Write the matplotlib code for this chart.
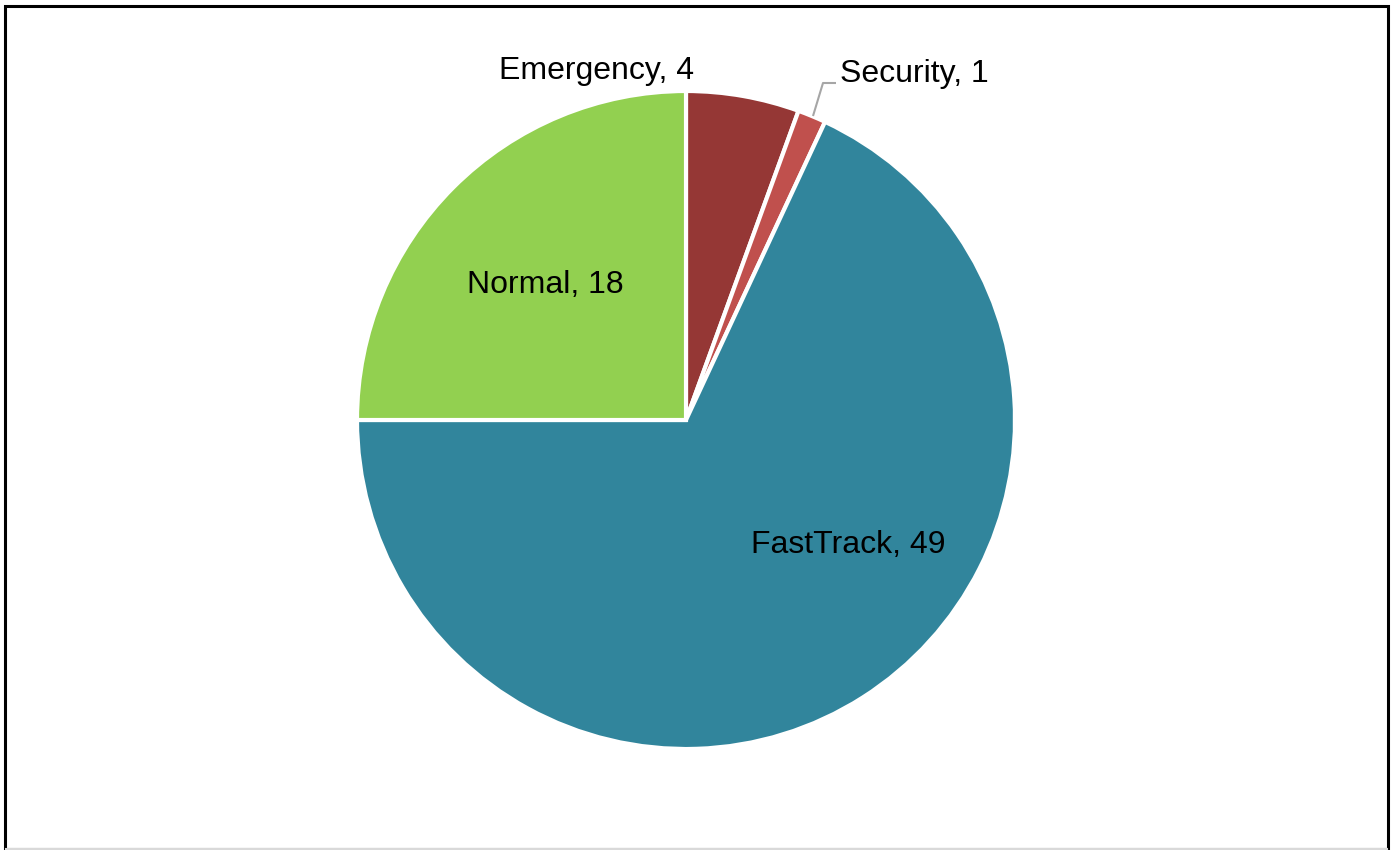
import matplotlib
matplotlib.use("Agg")
import matplotlib.pyplot as plt
from matplotlib.patches import Rectangle

plt.rcParams['font.family'] = ['Liberation Sans', 'DejaVu Sans']

categories = ["Emergency", "Security", "FastTrack", "Normal"]
values = [4, 1, 49, 18]
colors = ["#953735", "#C0504D", "#31859C", "#92D050"]

W, H = 1393, 850
fig = plt.figure(figsize=(W / 100, H / 100), dpi=100)
ax = fig.add_axes([0, 0, 1, 1])

cx, cy, r = 686, H - 420, 329
ax.pie(values, colors=colors, startangle=90, counterclock=False,
       center=(cx, cy), radius=r, frame=True,
       wedgeprops=dict(edgecolor='white', linewidth=3))
ax.set_xlim(0, W)
ax.set_ylim(0, H)
ax.set_aspect('equal')
ax.axis('off')

labels = [f"{c}, {v}" for c, v in zip(categories, values)]
label_pos = {
    "Emergency": (597, 71, 'center'),
    "Security": (840, 74, 'left'),
    "FastTrack": (848, 545, 'center'),
    "Normal": (545, 285, 'center'),
}
for c, lab in zip(categories, labels):
    x, y, ha = label_pos[c]
    ax.text(x, H - y, lab, ha=ha, va='center', fontsize=23, color='black')

# leader line for the narrow slice
ax.plot([813, 823, 836], [H - 116, H - 83, H - 83], color='#A6A6A6', lw=1.5,
        solid_capstyle='butt')

# chart border
ax.add_patch(Rectangle((5, 1), 1383, 843, fill=False, edgecolor='black', lw=2.2))
ax.plot([6, 1387], [1, 1], color='#D9D9D9', lw=1.5)

fig.savefig("out.png", dpi=100, facecolor='white')
